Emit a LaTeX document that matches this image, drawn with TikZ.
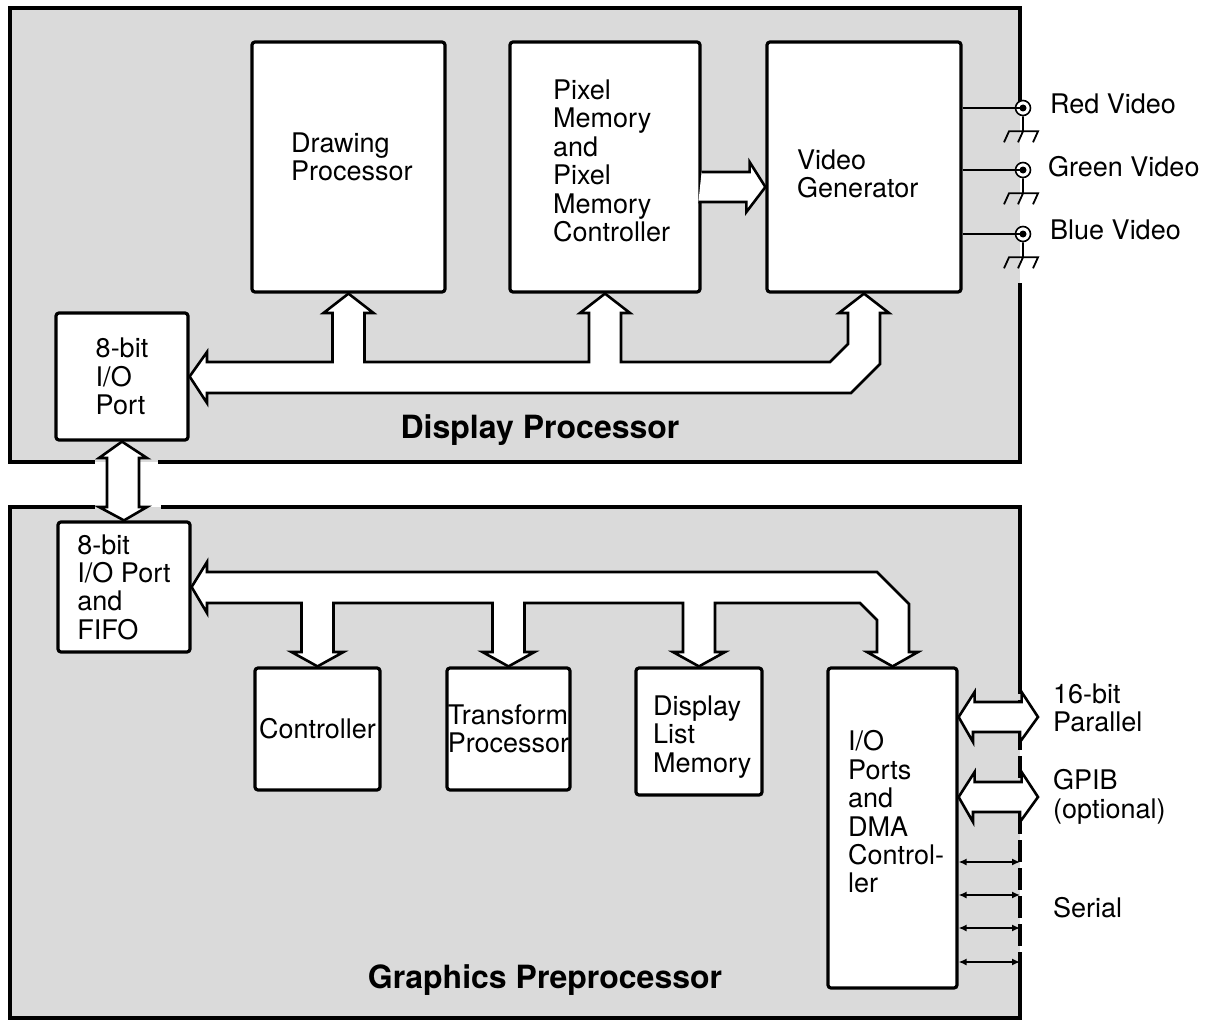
\documentclass[tikz,border=0pt]{standalone}
\usepackage{fontspec}
\setmainfont{TeX Gyre Heros}
\usepackage{tikz}
\usetikzlibrary{arrows.meta, positioning, calc}
\definecolor{dotgray}{RGB}{218,218,218}

\begin{document}
\begin{tikzpicture}[x=1pt, y=-1pt,
  panel/.style={fill=dotgray},
  frame/.style={line width=4pt, line cap=rect},
  blk/.style={rectangle, draw, fill=white, line width=3.2pt, rounded corners=3pt, inner sep=0pt,
              align=left, font=\fontsize{27}{28.4}\selectfont},
  bus/.style={draw, fill=white, line width=2.6pt, line join=miter},
  ttl/.style={font=\fontsize{32}{34}\selectfont\bfseries},
  lbl/.style={anchor=west, align=left, inner sep=0pt, font=\fontsize{27}{28.4}\selectfont},
  jack/.style={circle, draw, fill=white, line width=1.6pt, minimum size=15pt, inner sep=0pt},
  gnd/.style={line width=1.8pt},
  ser/.style={{Latex[length=8pt,width=7pt]}-{Latex[length=8pt,width=7pt]}, line width=1.4pt},
]
  \useasboundingbox (0,0) rectangle (1210,1022);

  % panels
  \fill[panel] (10,8) rectangle (1020,462);
  \fill[panel] (10,507) rectangle (1020,1018);
  \draw[frame] (1020,100) -- (1020,8) -- (10,8) -- (10,462) -- (93,462);
  \draw[frame] (160,462) -- (1020,462) -- (1020,285);
  \draw[frame] (93,507) -- (10,507) -- (10,1018) -- (1020,1018) -- (1020,972);
  \draw[frame, dash pattern=on 18pt off 10pt] (1020,972) -- (1020,688);
  \draw[frame] (1020,688) -- (1020,507) -- (163,507);

  % display processor
  \node[blk, minimum width=193, minimum height=250] (drp) at (348.5,167) {};
  \node[lbl] (drptxt) at (291,157) {Drawing\\Processor};
  \node[blk, minimum width=190, minimum height=250] (pix) at (605,167) {};
  \node[lbl] (pixtxt) at (553,161) {Pixel\\Memory\\and\\Pixel\\Memory\\Controller};
  \node[blk, minimum width=194, minimum height=250] (vid) at (864,167) {};
  \node[lbl] (vidtxt) at (797,174) {Video\\Generator};
  \node[blk, minimum width=132, minimum height=127] (dio) at (122,376.5) {8-bit\\I/O\\Port};
  \node[ttl] (dpt) at (540,430) {Display Processor};

  % graphics preprocessor
  \node[blk, minimum width=132, minimum height=130] (gio) at (124,587) {8-bit\\I/O Port\\and\\FIFO};
  \node[blk, minimum width=125, minimum height=122] (ctl) at (317.5,729) {Controller};
  \node[blk, minimum width=123, minimum height=122] (tfp) at (508.5,729) {Transform\\Processor};
  \node[blk, minimum width=126, minimum height=127] (dlm) at (699,731.5) {};
  \node[lbl] (dlmtxt) at (653,737) {Display\\List\\Memory};
  \node[blk, minimum width=129, minimum height=320] (dma) at (892.5,828) {};
  \node[lbl] (dmatxt) at (848,812) {I/O\\Ports\\and\\DMA\\Control-\\ler};
  \node[ttl] (gpt) at (545,980) {Graphics Preprocessor};

  % buses
  \draw[bus] (dio.east) -- (207,352) -- (207,362) -- (332.5,362) -- (332.5,313) -- (323.5,313)
    -- (drp.south) -- (373.5,313) -- (364.5,313) -- (364.5,362) -- (589,362) -- (589,313)
    -- (580,313) -- (pix.south) -- (630,313) -- (621,313) -- (621,362) -- (830,362)
    -- (848,344) -- (848,313) -- (839,313) -- (vid.south) -- (889,313) -- (880,313)
    -- (880,364) -- (851,393) -- (207,393) -- (207,403) -- cycle;
  \draw[bus] ($(pix.east)+(0,5)$) -- ++(48,0) -- ++(0,-10) -- ($(vid.west)+(0,20)$)
    -- ++(-19,25) -- ++(0,-10) -- ++(-48,0);
  \draw[bus] (dio.south) -- (147,458) -- (139,458) -- (139,507) -- (147,507) -- (gio.north)
    -- (99,507) -- (107,507) -- (107,458) -- (99,458) -- cycle;
  \draw[bus] (gio.east) -- (207,562) -- (207,572) -- (877,572) -- (909,604) -- (909,652)
    -- (918,652) -- (dma.north) -- (867,652) -- (877,652) -- (877,620) -- (860,603)
    -- (715,603) -- (715,652) -- (725,652) -- (dlm.north) -- (673,652) -- (683,652)
    -- (683,603) -- (524.5,603) -- (524.5,652) -- (534.5,652) -- (tfp.north) -- (482.5,652)
    -- (492.5,652) -- (492.5,603) -- (333.5,603) -- (333.5,652) -- (343.5,652) -- (ctl.north)
    -- (291.5,652) -- (301.5,652) -- (301.5,603) -- (207,603) -- (207,613) -- cycle;

  % video outputs
  \node[jack] (red) at (1023,108) {};
  \node[jack] (grn) at (1023,170) {};
  \node[jack] (blu) at (1023,234) {};
  \draw[line width=2pt] (vid.east |- red) -- (red.center);
  \draw[line width=2pt] (vid.east |- grn) -- (grn.center);
  \draw[line width=2pt] (vid.east |- blu) -- (blu.center);
  \fill (red) circle (3.5);
  \fill (grn) circle (3.5);
  \fill (blu) circle (3.5);
  \draw[gnd] (red.south) -- ++(0,15) -- ++(15,0) -- ++(-5,11) ++(5,-11) -- ++(-29,0) -- ++(-5,11) ++(19,-11) -- ++(-5,11);
  \draw[gnd] (grn.south) -- ++(0,15) -- ++(15,0) -- ++(-5,11) ++(5,-11) -- ++(-29,0) -- ++(-5,11) ++(19,-11) -- ++(-5,11);
  \draw[gnd] (blu.south) -- ++(0,15) -- ++(15,0) -- ++(-5,11) ++(5,-11) -- ++(-29,0) -- ++(-5,11) ++(19,-11) -- ++(-5,11);
  \node[lbl] (redl) at (1050,104) {Red Video};
  \node[lbl] (grnl) at (1048,167) {Green Video};
  \node[lbl] (blul) at (1050,230) {Blue Video};

  % external interfaces
  \coordinate (par) at (1038,717);
  \coordinate (gpib) at (1038,797);
  \draw[bus] (dma.east |- par) -- ++(16,-25) -- ++(0,10) -- ++(47,0) -- ++(0,-10) -- (par)
    -- ++(-18,25) -- ++(0,-10) -- ++(-47,0) -- ++(0,10) -- cycle;
  \draw[bus] (dma.east |- gpib) -- ++(16,-25) -- ++(0,10) -- ++(47,0) -- ++(0,-10) -- (gpib)
    -- ++(-18,25) -- ++(0,-10) -- ++(-47,0) -- ++(0,10) -- cycle;
  \coordinate (s1) at (1020,862);
  \coordinate (s2) at (1020,895);
  \coordinate (s3) at (1020,928);
  \coordinate (s4) at (1020,962);
  \draw[ser] (dma.east |- s1) -- (s1);
  \draw[ser] (dma.east |- s2) -- (s2);
  \draw[ser] (dma.east |- s3) -- (s3);
  \draw[ser] (dma.east |- s4) -- (s4);
  \node[lbl] (parl) at (1053,708) {16-bit\\Parallel};
  \node[lbl] (gpibl) at (1053,797) {GPIB\\(optional)};
  \node[lbl] (serl) at (1053,908) {Serial};
\end{tikzpicture}
\end{document}
